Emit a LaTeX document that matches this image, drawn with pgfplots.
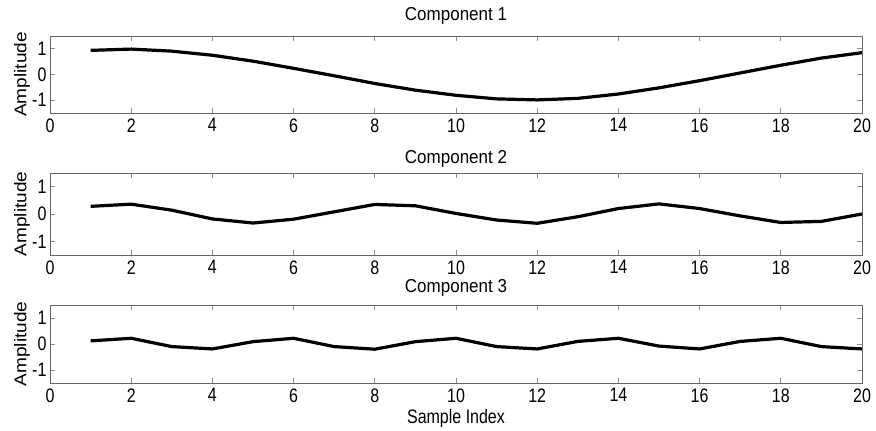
\documentclass[border=0pt]{standalone}
\usepackage{fontspec}
\setmainfont{Liberation Sans}
\usepackage{pgfplots}
\pgfplotsset{compat=1.18}
\begin{document}
\begin{tikzpicture}
\path[use as bounding box] (0pt,0pt) rectangle (876pt,-431pt);
\pgfplotsset{
  panel/.style={
    scale only axis, width=812pt,
    xmin=0, xmax=20, ymin=-1.5, ymax=1.5,
    xtick={0,2,...,20}, ytick={-1,0,1},
    tick align=inside, major tick length=5pt,
    every tick/.style={black!45, line width=0.9pt},
    axis line style={black!60, line width=0.8pt},
    /pgf/number format/assume math mode=true,
    ticklabel style={font=\fontsize{16}{16}\selectfont, yscale=1.22},
    xticklabel style={yshift=-1pt},
    anchor=north west,
    ylabel={Amplitude},
    ylabel style={font=\fontsize{17}{17}\selectfont, xscale=1.12, at={(axis description cs:-0.0345,0.5)}, anchor=center},
    title style={font=\fontsize{17}{17}\selectfont, yscale=1.1, at={(axis description cs:0.5,1)}, anchor=base},
    clip=false,
  },
  dat/.style={black, line width=3.2pt, line join=round}
}
\begin{axis}[panel, height=77pt, at={(50pt,-36pt)}, title={Component 1}, title style={yshift=9pt}]
\addplot[dat] coordinates {
(1,0.94) (2,0.99) (3,0.91) (4,0.75) (5,0.52) (6,0.24) (7,-0.05) (8,-0.35) (9,-0.61) (10,-0.81)
(11,-0.95) (12,-0.99) (13,-0.93) (14,-0.76) (15,-0.52) (16,-0.24) (17,0.06) (18,0.36) (19,0.64) (20,0.85)};
\end{axis}
\begin{axis}[panel, height=82pt, at={(50pt,-173pt)}, title={Component 2}, title style={yshift=3pt}]
\addplot[dat] coordinates {
(1,0.28) (2,0.36) (3,0.14) (4,-0.18) (5,-0.33) (6,-0.19) (7,0.08) (8,0.35) (9,0.30) (10,0.02)
(11,-0.22) (12,-0.34) (13,-0.10) (14,0.20) (15,0.37) (16,0.20) (17,-0.07) (18,-0.31) (19,-0.27) (20,0.0)};
\end{axis}
\begin{axis}[panel, height=78pt, at={(50pt,-305pt)}, title={Component 3}, title style={yshift=6pt},
  xlabel={Sample Index}, xlabel style={font=\fontsize{16}{16}\selectfont, yscale=1.22, at={(axis description cs:0.5,0)}, anchor=center, yshift=-29pt}]
\addplot[dat] coordinates {
(1,0.12) (2,0.22) (3,-0.10) (4,-0.19) (5,0.09) (6,0.22) (7,-0.10) (8,-0.20) (9,0.09) (10,0.22)
(11,-0.10) (12,-0.19) (13,0.10) (14,0.22) (15,-0.08) (16,-0.19) (17,0.10) (18,0.22) (19,-0.10) (20,-0.19)};
\end{axis}
\end{tikzpicture}
\end{document}
